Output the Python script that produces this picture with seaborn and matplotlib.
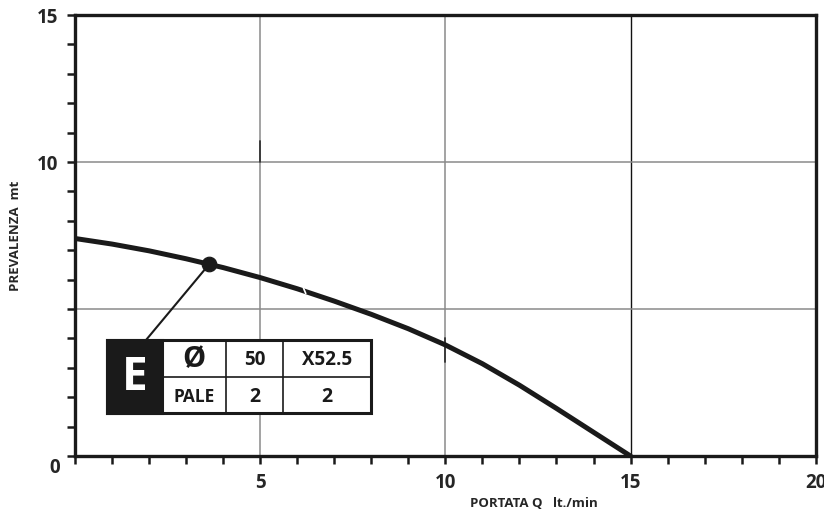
import seaborn as sns
import pandas as pd
import matplotlib.pyplot as plt
from matplotlib.patches import Rectangle

# -----------------------------------------------------------------------------
# Data
# -----------------------------------------------------------------------------

portata = [0, 1, 2, 3, 4, 5, 6, 7, 8, 9, 10, 11, 12, 13, 14, 15]
prevalenza = [7.40, 7.21, 6.98, 6.71, 6.41, 6.07, 5.69, 5.27, 4.82, 4.33, 3.78,
              3.14, 2.41, 1.62, 0.81, 0.0]

# duty point marker
punto_q = [3.62]
punto_h = [6.52]

x_labels = {5: "5", 10: "10", 15: "15", 20: "20"}
y_labels = {10: "10", 15: "15"}

tabella = [["Ø", "50", "X52.5"], ["PALE", "2", "2"]]

df = pd.DataFrame({"q": portata, "h": prevalenza})

# -----------------------------------------------------------------------------
# Plot
# -----------------------------------------------------------------------------

sns.set_style("ticks")
plt.rcParams["font.family"] = ["Open Sans", "DejaVu Sans"]
plt.rcParams["font.weight"] = "bold"

fig = plt.figure(figsize=(8.24, 5.09), dpi=100)
ax = fig.add_axes([0.091, 0.104, 0.899, 0.8665])

ax.set_xlim(0, 20)
ax.set_ylim(0, 15)

# grid
for gx in [5, 10]:
    ax.axvline(gx, color="#8a8a8a", lw=1.1, zorder=1)
ax.axvline(15, color="#111111", lw=1.0, zorder=1)
for gy in [5, 10]:
    ax.axhline(gy, color="#8a8a8a", lw=1.1, zorder=1)
ax.plot([5, 5], [10, 10.7], color="#333333", lw=1.3, zorder=1)
ax.plot([10, 10], [3.2, 4.0], color="#333333", lw=1.3, zorder=1)

# curve
sns.lineplot(data=df, x="q", y="h", ax=ax, color="#1a1a1a", lw=3.6,
             solid_joinstyle="round", zorder=3)
# small break in the curve
ax.plot([6.17, 6.23], [5.71, 5.53], color="white", lw=1.2, zorder=4)

sns.scatterplot(x=punto_q, y=punto_h, ax=ax, color="#1a1a1a", s=110,
                edgecolor="#1a1a1a", zorder=5)

# leader line to the table
ax.plot([punto_q[0], 1.92], [punto_h[0], 3.95], color="#1a1a1a", lw=1.5, zorder=4)

# table
x0, x1, xc1, xc2, x2 = 0.86, 2.35, 4.08, 5.61, 7.99
y0, ym, y1 = 1.46, 2.69, 3.95
ax.add_patch(Rectangle((x0, y0), x2 - x0, y1 - y0, facecolor="white",
                       edgecolor="#1a1a1a", lw=2.2, zorder=6))
ax.add_patch(Rectangle((x0, y0), x1 - x0, y1 - y0, facecolor="#1a1a1a",
                       edgecolor="#1a1a1a", lw=2.2, zorder=7))
ax.plot([x1, x2], [ym, ym], color="#1a1a1a", lw=1.2, zorder=7)
for cx in [xc1, xc2]:
    ax.plot([cx, cx], [y0, y1], color="#1a1a1a", lw=1.2, zorder=7)
ax.text((x0 + x1) / 2, (y0 + y1) / 2 - 0.05, "E", color="white", fontsize=33,
        fontweight="bold", ha="center", va="center", zorder=8)
cols = [(x1 + xc1) / 2, (xc1 + xc2) / 2, (xc2 + x2) / 2]
rows = [(ym + y1) / 2, (y0 + ym) / 2]
sizes = [[21, 13.5, 13.5], [12.5, 14, 14]]
for r, row in enumerate(tabella):
    for c, val in enumerate(row):
        ax.text(cols[c], rows[r] - 0.05, val, fontsize=sizes[r][c],
                fontweight="bold", ha="center", va="center", zorder=8,
                color="#1a1a1a")

# ticks and labels
ax.set_xticks(range(0, 21))
ax.set_xticklabels([x_labels.get(i, "") for i in range(0, 21)])
ax.set_yticks(range(0, 16))
ax.set_yticklabels([y_labels.get(i, "") for i in range(0, 16)])
ax.tick_params(axis="both", direction="out", length=6, width=1.8,
               color="#1a1a1a", labelsize=13.5, pad=6)
for lbl in ax.get_xticklabels() + ax.get_yticklabels():
    lbl.set_fontweight("bold")
ax.text(-0.54, -0.42, "0", fontsize=13.5, fontweight="bold", ha="center",
        va="center", clip_on=False)

for sp in ax.spines.values():
    sp.set_linewidth(2.4)
    sp.set_color("#1a1a1a")
    sp.set_visible(True)

ax.set_xlabel("")
ax.set_ylabel("PREVALENZA  mt", fontsize=9.5, fontweight="bold")
ax.yaxis.set_label_coords(-0.072, 0.5)
ax.text(12.4, -1.62, "PORTATA Q   lt./min", fontsize=9.5, fontweight="bold",
        ha="center", va="center", clip_on=False)

fig.savefig("out.png", dpi=100)
